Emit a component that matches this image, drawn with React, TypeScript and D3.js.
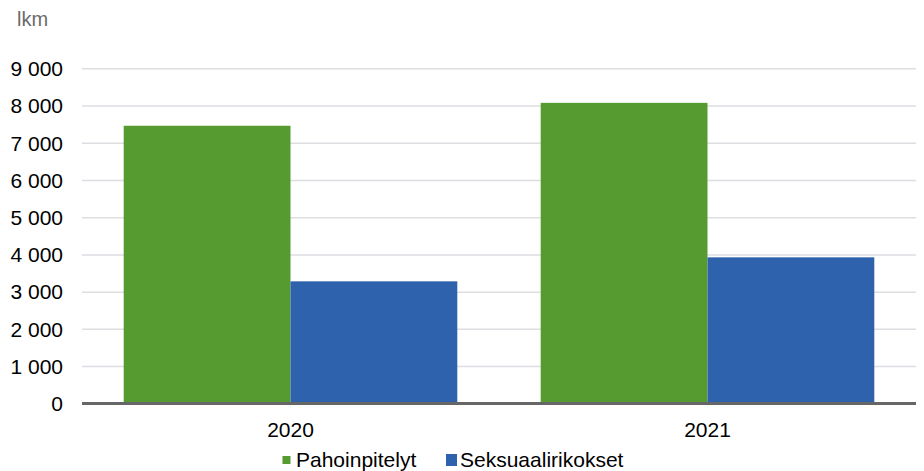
import React from "react";
import * as d3 from "d3";

const categories = ["2020", "2021"];
const seriesNames = ["Pahoinpitelyt", "Seksuaalirikokset"];
const pahoinpitelyt = [7470, 8085];
const seksuaalirikokset = [3290, 3935];
const yTicks = [0, 1000, 2000, 3000, 4000, 5000, 6000, 7000, 8000, 9000];
const colors = ["#559b30", "#2f62ad"];

const W = 924;
const H = 471;
const left = 82;
const right = 916;
const top = 68.8;
const bottom = 403.8;

export default function App() {
  const y = d3.scaleLinear().domain([0, 9000]).range([bottom, top]);
  const x0 = d3.scaleBand<string>().domain(categories).range([left, right]).paddingInner(0.2).paddingOuter(0.1);
  const x1 = d3.scaleBand<string>().domain(seriesNames).range([0, x0.bandwidth()]);
  const values = [pahoinpitelyt, seksuaalirikokset];
  const fmt = (v: number) => d3.format(",")(v).replace(/,/g, " ");
  const font = "Arial, 'Liberation Sans', sans-serif";

  return (
    <svg width={W} height={H} style={{ position: "absolute", left: 0, top: 0, fontFamily: font }}>
      <rect width={W} height={H} fill="#fff" />
      <text x={17} y={26} fontSize={20} fill="#6b6b6b">lkm</text>
      {yTicks.map((t) => (
        <g key={t}>
          {t > 0 && (
            <line x1={left} x2={right} y1={y(t)} y2={y(t)} stroke="#dcdee2" strokeWidth={1.5} />
          )}
          <text x={63} y={y(t)} dy="0.35em" textAnchor="end" fontSize={21} fill="#000">
            {fmt(t)}
          </text>
        </g>
      ))}
      {categories.map((c, ci) => (
        <g key={c}>
          {seriesNames.map((s, si) => (
            <rect
              key={s}
              x={(x0(c) ?? 0) + (x1(s) ?? 0)}
              y={y(values[si][ci])}
              width={x1.bandwidth()}
              height={bottom - y(values[si][ci])}
              fill={colors[si]}
            />
          ))}
          <text x={(x0(c) ?? 0) + x0.bandwidth() / 2} y={437} textAnchor="middle" fontSize={21} fill="#000">
            {c}
          </text>
        </g>
      ))}
      <line x1={left} x2={right} y1={bottom - 0.3} y2={bottom - 0.3} stroke="#666" strokeWidth={3} />
      <rect x={282.5} y={456} width={8} height={8} fill={colors[0]} />
      <text x={296} y={467} fontSize={21} fill="#000">{seriesNames[0]}</text>
      <rect x={446} y={454} width={11} height={12} fill={colors[1]} />
      <text x={460} y={467} fontSize={21} fill="#000">{seriesNames[1]}</text>
    </svg>
  );
}
